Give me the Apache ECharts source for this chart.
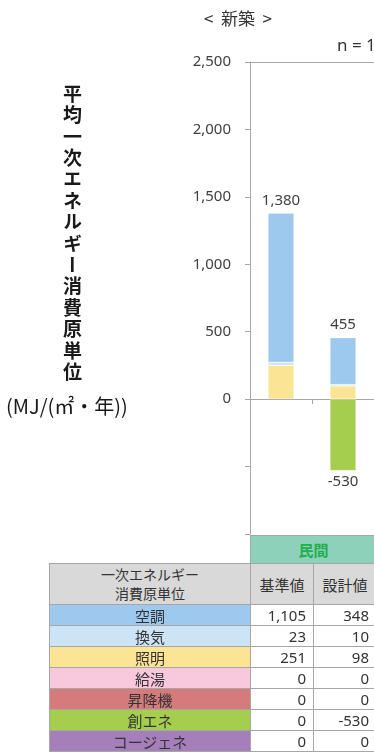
<!DOCTYPE html>
<html>
<head>
<meta charset="utf-8">
<script src="https://cdn.jsdelivr.net/npm/echarts@6/dist/echarts.min.js"></script>
<style>
  html, body { margin: 0; padding: 0; background: #fff; overflow: hidden; }
  #wrap { position: relative; width: 374px; height: 752px; overflow: hidden; }
  #chart { position: absolute; left: 0; top: 0; width: 374px; height: 752px; }
  .ylab { position: absolute; left: 61px; top: 84px; writing-mode: vertical-rl; text-orientation: upright;
          font-family: "Noto Sans CJK JP", sans-serif; font-weight: bold; font-size: 19px; letter-spacing: 2.4px;
          color: #1a1a1a; line-height: 22px; }
  .yunit { position: absolute; left: 6px; top: 391px; font-family: "Noto Sans CJK JP", sans-serif; font-size: 20px; color: #1a1a1a; white-space: nowrap; }
  .cell { position: absolute; box-sizing: border-box; border: 1px solid #a6a6a6; font-family: "Noto Sans", "Noto Sans CJK JP", sans-serif;
          font-size: 15px; color: #333; display: flex; align-items: center; white-space: nowrap; overflow: hidden; }
  .lab { justify-content: center; font-family: "Noto Sans CJK JP", sans-serif; font-size: 15px; }
  .num { justify-content: flex-end; padding-right: 7px; }
</style>
</head>
<body>
<div id="wrap">
  <div id="chart"></div>
  <div class="ylab">平均一次エネルギー消費原単位</div>
  <div class="yunit">(MJ/(㎡・年))</div>
  <div id="table"></div>
</div>
<script>
// ---- data ----
const barCategories = ['基準値', '設計値'];
const usages = ['空調', '換気', '照明', '給湯', '昇降機', '創エネ', 'コージェネ'];
const kijunValues = [1105, 23, 251, 0, 0, 0, 0];
const sekkeiValues = [348, 10, 98, 0, 0, -530, 0];
const positiveTotals = ['1,380', '455'];
const negativeTotals = ['', '-530'];
const yTicks = [-1000, -500, 0, 500, 1000, 1500, 2000, 2500];
const groupLabel = '民間';
const headerLabel = ['一次エネルギー', '消費原単位'];
const usageColors = ['#9dc9ee', '#cde4f6', '#fbe594', '#f8c9dd', '#d67b7b', '#a6ce4e', '#a47fba'];

// ---- chart ----
const chart = echarts.init(document.getElementById('chart'));
const stackOrder = [2, 1, 0, 3, 4, 5, 6]; // 照明 bottom, 換気, 空調 on top
const series = stackOrder.map(idx => {
  const s = {
    name: usages[idx],
    type: 'bar',
    stack: 'total',
    barWidth: 26,
    data: [kijunValues[idx], sekkeiValues[idx]].map(v => v === 0 ? null : v),
    itemStyle: { color: usageColors[idx], borderColor: 'rgba(255,255,255,0.45)', borderWidth: 0.6 },
    emphasis: { disabled: true },
    silent: true
  };
  if (usages[idx] === '空調') {
    s.label = { show: true, position: 'top', distance: 5, color: '#404040', fontSize: 15,
      fontFamily: 'Noto Sans', formatter: p => positiveTotals[p.dataIndex] };
  }
  if (usages[idx] === '創エネ') {
    s.label = { show: true, position: 'bottom', distance: 4, color: '#404040', fontSize: 15,
      fontFamily: 'Noto Sans', formatter: p => negativeTotals[p.dataIndex] };
  }
  return s;
});

chart.setOption({
  animation: false,
  grid: { left: 250, top: 62, width: 125.4, height: 472, containLabel: false },
  title: [
    { text: '<  新築  >', left: 233, top: 5, textAlign: 'center',
      textStyle: { fontSize: 17, fontWeight: 'normal', color: '#333', fontFamily: 'Noto Sans CJK JP' } },
    { text: 'n = 1', left: 332, top: 33,
      textStyle: { fontSize: 17, fontWeight: 'normal', color: '#333', fontFamily: 'Noto Sans' } }
  ],
  xAxis: {
    type: 'category',
    data: barCategories,
    axisLine: { onZero: true, lineStyle: { color: '#a6a6a6', width: 1 } },
    axisTick: { show: true, length: 5, lineStyle: { color: '#a6a6a6' } },
    axisLabel: { show: false },
    splitLine: { show: false }
  },
  yAxis: {
    type: 'value',
    min: yTicks[0],
    max: yTicks[yTicks.length - 1],
    interval: 500,
    axisLine: { show: true, lineStyle: { color: '#a6a6a6', width: 1 } },
    axisTick: { show: true, length: 5, lineStyle: { color: '#a6a6a6' } },
    axisLabel: { margin: 19, color: '#404040', fontSize: 15, fontFamily: 'Noto Sans',
      formatter: v => v < 0 ? '' : v.toLocaleString('en-US') },
    splitLine: { show: true, lineStyle: { width: 1,
      color: yTicks.map((t, i) => i === yTicks.length - 1 ? '#a6a6a6' : 'rgba(0,0,0,0)') } }
  },
  series: series
});

// ---- table ----
const table = document.getElementById('table');
function cell(x, y, w, h, html, cls, style) {
  const d = document.createElement('div');
  d.className = 'cell ' + (cls || '');
  d.style.left = x + 'px'; d.style.top = y + 'px';
  d.style.width = w + 'px'; d.style.height = h + 'px';
  if (style) Object.assign(d.style, style);
  d.innerHTML = html;
  table.appendChild(d);
}
const colX = [49, 250, 313];
const colW = [202, 64, 64];
cell(250, 535, 127, 29, groupLabel, 'lab', { background: '#8ed1bb', color: '#21b04b', fontWeight: 'bold', fontSize: '15px' });
cell(colX[0], 563, colW[0], 42, '<div style="text-align:center;line-height:19px">' + headerLabel.join('<br>') + '</div>', 'lab', { background: '#d9d9d9', fontSize: '14px' });
barCategories.forEach((c, i) => cell(colX[i + 1], 563, colW[i + 1], 42, c, 'lab', { background: '#d9d9d9', fontSize: '15px' }));
usages.forEach((u, r) => {
  const y = 604 + r * 21;
  cell(colX[0], y, colW[0], 22, u, 'lab', { background: usageColors[r] });
  cell(colX[1], y, colW[1], 22, kijunValues[r].toLocaleString('en-US'), 'num');
  cell(colX[2], y, colW[2], 22, sekkeiValues[r].toLocaleString('en-US'), 'num');
});
</script>
</body>
</html>
